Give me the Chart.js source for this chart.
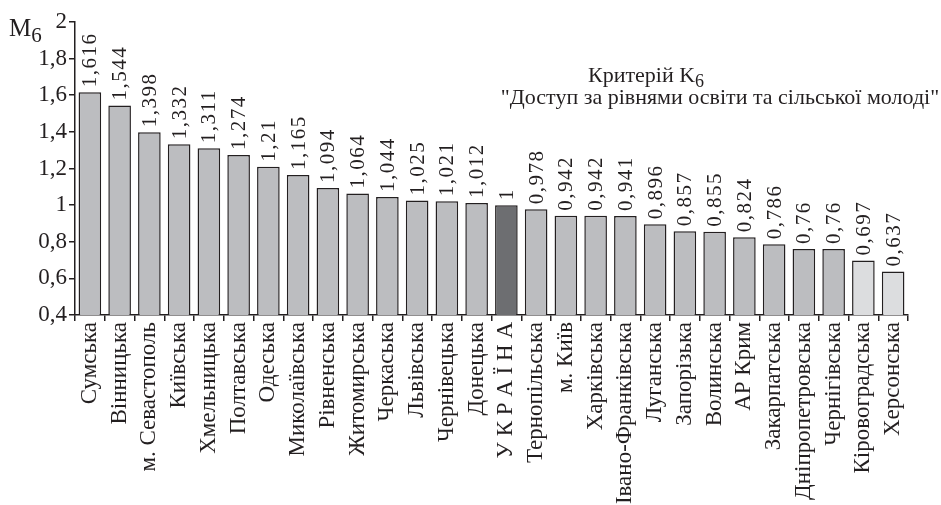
<!DOCTYPE html>
<html>
<head>
<meta charset="utf-8">
<script src="https://cdn.jsdelivr.net/npm/chart.js@4"></script>
<style>
  html, body { margin: 0; padding: 0; background: #fff; }
  #wrap { width: 941px; height: 505px; position: relative; }
</style>
</head>
<body>
<div id="wrap"><canvas id="chart" width="941" height="505"></canvas></div>
<script>
const regions = ["Сумська", "Вінницька", "м. Севастополь", "Київська", "Хмельницька", "Полтавська",
  "Одеська", "Миколаївська", "Рівненська", "Житомирська", "Черкаська", "Львівська", "Чернівецька",
  "Донецька", "У К Р А Ї Н А", "Тернопільська", "м. Київ", "Харківська", "Івано-Франківська",
  "Луганська", "Запорізька", "Волинська", "АР Крим", "Закарпатська", "Дніпропетровська",
  "Чернігівська", "Кіровоградська", "Херсонська"];
const values = [1.616, 1.544, 1.398, 1.332, 1.311, 1.274, 1.21, 1.165, 1.094, 1.064, 1.044, 1.025,
  1.021, 1.012, 1, 0.978, 0.942, 0.942, 0.941, 0.896, 0.857, 0.855, 0.824, 0.786, 0.76, 0.76,
  0.697, 0.637];
const yTicks = [0.4, 0.6, 0.8, 1, 1.2, 1.4, 1.6, 1.8, 2];

const SERIF = '"Liberation Serif", "Times New Roman", serif';

// цвет столбца: Україна темнее, последние два светлее
const barColors = regions.map((r, i) => {
    if (r === "У К Р А Ї Н А") return "#6d6e71";
    if (i >= regions.length - 2) return "#dcdddf";
    return "#bcbdc0";
});

function fmt(v) {
    const s = String(Math.round(v * 1000) / 1000);
    return s.replace(".", ",");
}

// подписи значений над столбцами (повернуты на 90°)
const valueLabels = {
    id: "valueLabels",
    afterDatasetsDraw(chart) {
        const ctx = chart.ctx;
        const meta = chart.getDatasetMeta(0);
        ctx.save();
        ctx.fillStyle = "#231f20";
        ctx.font = "21px " + SERIF;
        ctx.letterSpacing = "1.5px";
        ctx.textAlign = "left";
        ctx.textBaseline = "middle";
        meta.data.forEach((bar, i) => {
            ctx.save();
            ctx.translate(bar.x + 1, bar.y - 5);
            ctx.rotate(-Math.PI / 2);
            ctx.fillText(fmt(values[i]), 0, 0);
            ctx.restore();
        });
        ctx.restore();
    }
};

// заголовок и подпись оси с нижними индексами
const texts = {
    id: "texts",
    afterDraw(chart) {
        const ctx = chart.ctx;
        ctx.save();
        ctx.fillStyle = "#231f20";
        ctx.textBaseline = "alphabetic";

        ctx.font = "25px " + SERIF;
        ctx.textAlign = "left";
        ctx.fillText("М", 9, 36);
        const mw = ctx.measureText("М").width;
        ctx.font = "21px " + SERIF;
        ctx.fillText("6", 9 + mw, 42);

        ctx.font = "22px " + SERIF;
        const t1 = "Критерій K";
        const w1 = ctx.measureText(t1).width;
        ctx.fillText(t1, 588, 82);
        ctx.font = "18px " + SERIF;
        ctx.fillText("6", 588 + w1, 87);

        ctx.font = "22px " + SERIF;
        ctx.textAlign = "center";
        ctx.fillText("\"Доступ за рівнями освіти та сільської молоді\"", 720, 104);
        ctx.restore();
    }
};

new Chart(document.getElementById("chart"), {
    type: "bar",
    data: {
        labels: regions,
        datasets: [{
            data: values,
            backgroundColor: barColors,
            borderColor: "#231f20",
            borderWidth: 1.5,
            borderSkipped: false,
            barPercentage: 0.76,
            categoryPercentage: 1
        }]
    },
    options: {
        responsive: false,
        animation: false,
        layout: { padding: { top: 22, right: 33, left: 0, bottom: 0 } },
        plugins: { legend: { display: false }, tooltip: { enabled: false } },
        scales: {
            x: {
                grid: { display: true, drawOnChartArea: false, drawTicks: true, tickLength: 6, color: "#231f20", lineWidth: 1.5, offset: true },
                border: { display: true, color: "#231f20", width: 1.5 },
                ticks: {
                    autoSkip: false, minRotation: 90, maxRotation: 90, padding: 1,
                    color: "#231f20", font: { family: SERIF, size: 23 }
                },
                afterFit(scale) { scale.height = 190; }
            },
            y: {
                min: 0.4, max: 2,
                afterBuildTicks(scale) { scale.ticks = yTicks.map(v => ({ value: v })); },
                grid: { display: true, drawOnChartArea: false, drawTicks: true, tickLength: 6, color: "#231f20", lineWidth: 1.5 },
                border: { display: true, color: "#231f20", width: 1.5 },
                ticks: {
                    padding: 2, color: "#231f20", font: { family: SERIF, size: 23 },
                    callback: v => fmt(v)
                },
                afterFit(scale) { scale.width = 75; }
            }
        }
    },
    plugins: [valueLabels, texts]
});
</script>
</body>
</html>
